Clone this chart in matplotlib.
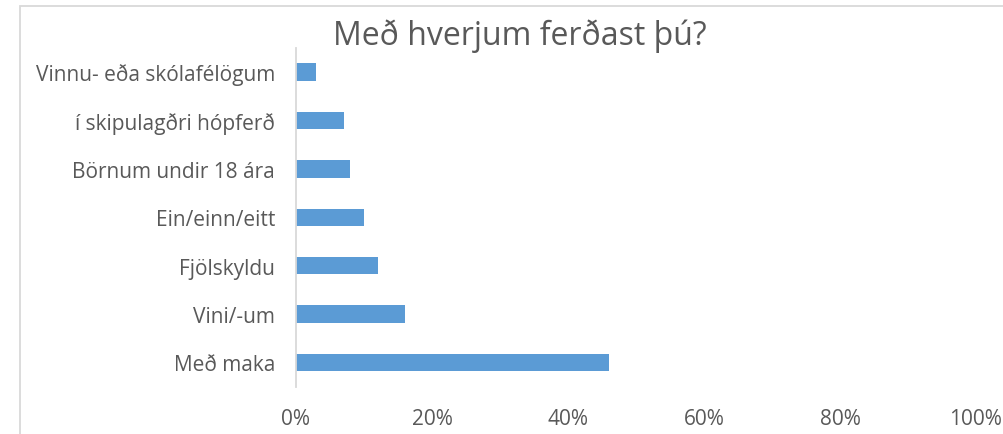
import matplotlib.pyplot as plt
from matplotlib.patches import Rectangle
from matplotlib.ticker import PercentFormatter

# data, bottom to top
categories = ['Með maka', 'Vini/-um', 'Fjölskyldu', 'Ein/einn/eitt',
              'Börnum undir 18 ára', 'í skipulagðri hópferð', 'Vinnu- eða skólafélögum']
values = [46, 16, 12, 10, 8, 7, 3]
xticks = [0, 20, 40, 60, 80, 100]

plt.rcParams['font.family'] = ['Open Sans', 'DejaVu Sans']
txt = '#595959'
W, H = 1004, 435

fig = plt.figure(figsize=(W / 100, H / 100), dpi=100)
fig.patches.append(Rectangle((20.5 / W, -0.1), 1.2, 1.1 - 6.5 / H, transform=fig.transFigure,
                             fill=False, edgecolor='#d9d9d9', linewidth=1.3))

ax = fig.add_axes([296 / W, (H - 387.7) / H, (976 - 296) / W, (387.7 - 48.8) / H])
ax.barh(range(len(values)), values, height=0.36, color='#5b9bd5')
ax.set_ylim(-0.5, len(values) - 0.5)
ax.set_xlim(0, 100)
ax.set_xticks(xticks)
ax.xaxis.set_major_formatter(PercentFormatter(decimals=0))
ax.set_yticks(range(len(categories)))
ax.set_yticklabels(categories)
ax.tick_params(axis='y', length=0, pad=15, labelsize=15, labelcolor=txt)
ax.tick_params(axis='x', length=0, pad=15, labelsize=15, labelcolor=txt)
for s in ['top', 'right', 'bottom']:
    ax.spines[s].set_visible(False)
ax.spines['left'].set_color('#d9d9d9')
ax.spines['left'].set_linewidth(1.3)
ax.set_facecolor('none')

fig.text(520 / W, 1 - 36 / H, 'Með hverjum ferðast þú?', ha='center', va='center',
         fontsize=23, color=txt)

fig.savefig('out.png', dpi=100)
